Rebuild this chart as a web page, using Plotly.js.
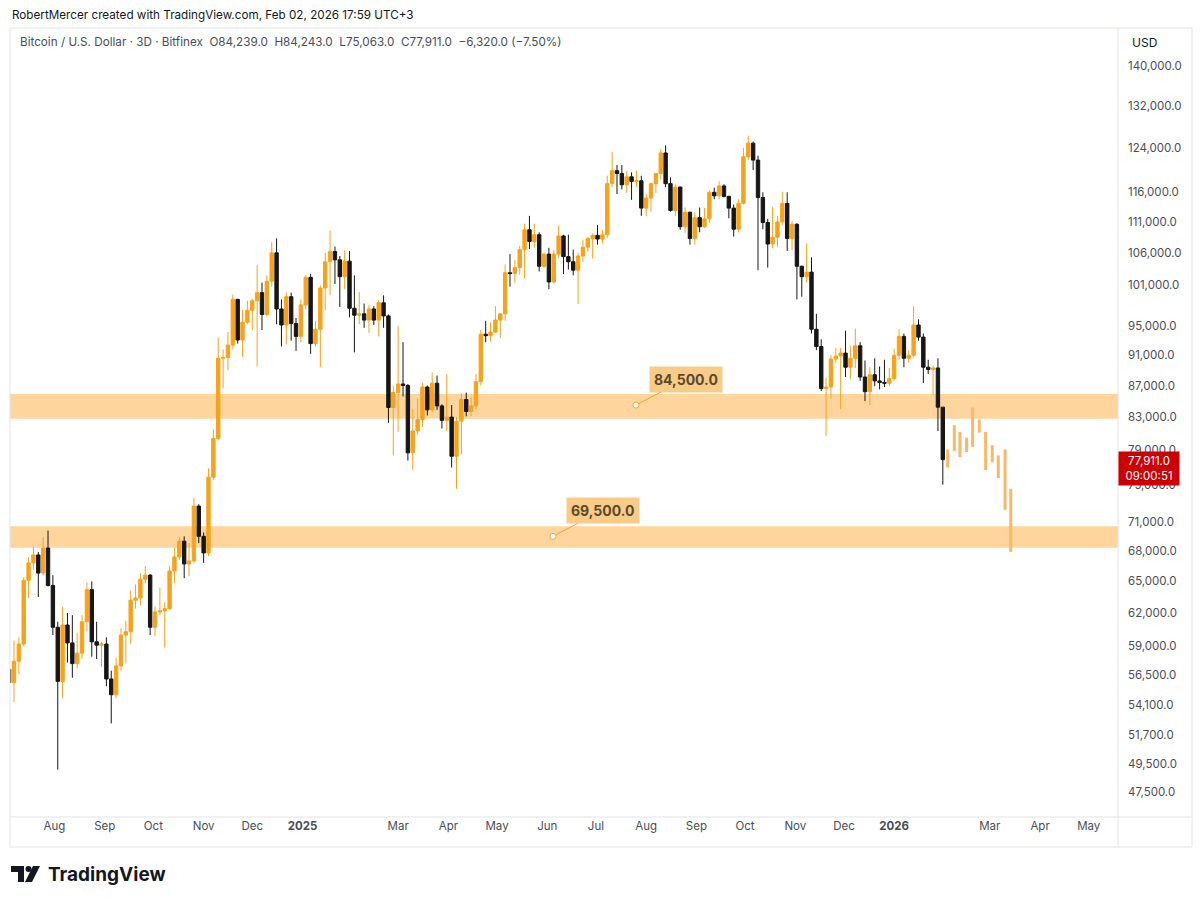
<!DOCTYPE html>
<html><head><meta charset="utf-8">
<script src="https://cdn.plot.ly/plotly-3.0.1.min.js"></script>
<style>html,body{margin:0;padding:0;background:#fff;}#chart{width:1200px;height:903px;}</style>
</head><body><div id="chart"></div>
<script>
// ---- DATA (3D candles, prices in thousands of USD) ----
const dates = [
'2024-07-04','2024-07-07','2024-07-10','2024-07-13','2024-07-16','2024-07-19','2024-07-22','2024-07-25','2024-07-28','2024-07-31',
'2024-08-03','2024-08-06','2024-08-09','2024-08-12','2024-08-15','2024-08-18','2024-08-21','2024-08-24','2024-08-27','2024-08-30',
'2024-09-02','2024-09-05','2024-09-08','2024-09-11','2024-09-14','2024-09-17','2024-09-20','2024-09-23','2024-09-26','2024-09-29',
'2024-10-02','2024-10-05','2024-10-08','2024-10-11','2024-10-14','2024-10-17','2024-10-20','2024-10-23','2024-10-26','2024-10-29',
'2024-11-01','2024-11-04','2024-11-07','2024-11-10','2024-11-13','2024-11-16','2024-11-19','2024-11-22','2024-11-25','2024-11-28',
'2024-12-01','2024-12-04','2024-12-07','2024-12-10','2024-12-13','2024-12-16','2024-12-19','2024-12-22','2024-12-25','2024-12-28',
'2024-12-31','2025-01-03','2025-01-06','2025-01-09','2025-01-12','2025-01-15','2025-01-18','2025-01-21','2025-01-24','2025-01-27',
'2025-01-30','2025-02-02','2025-02-05','2025-02-08','2025-02-11','2025-02-14','2025-02-17','2025-02-20','2025-02-23','2025-02-26',
'2025-03-01','2025-03-04','2025-03-07','2025-03-10','2025-03-13','2025-03-16','2025-03-19','2025-03-22','2025-03-25','2025-03-28',
'2025-03-31','2025-04-03','2025-04-06','2025-04-09','2025-04-12','2025-04-15','2025-04-18','2025-04-21','2025-04-24','2025-04-27',
'2025-04-30','2025-05-03','2025-05-06','2025-05-09','2025-05-12','2025-05-15','2025-05-18','2025-05-21','2025-05-24','2025-05-27',
'2025-05-30','2025-06-02','2025-06-05','2025-06-08','2025-06-11','2025-06-14','2025-06-17','2025-06-20','2025-06-23','2025-06-26',
'2025-06-29','2025-07-02','2025-07-05','2025-07-08','2025-07-11','2025-07-14','2025-07-17','2025-07-20','2025-07-23','2025-07-26',
'2025-07-29','2025-08-01','2025-08-04','2025-08-07','2025-08-10','2025-08-13','2025-08-16','2025-08-19','2025-08-22','2025-08-25',
'2025-08-28','2025-08-31','2025-09-03','2025-09-06','2025-09-09','2025-09-12','2025-09-15','2025-09-18','2025-09-21','2025-09-24',
'2025-09-27','2025-09-30','2025-10-03','2025-10-06','2025-10-09','2025-10-12','2025-10-15','2025-10-18','2025-10-21','2025-10-24',
'2025-10-27','2025-10-30','2025-11-02','2025-11-05','2025-11-08','2025-11-11','2025-11-14','2025-11-17','2025-11-20','2025-11-23',
'2025-11-26','2025-11-29','2025-12-02','2025-12-05','2025-12-08','2025-12-11','2025-12-14','2025-12-17','2025-12-20','2025-12-23',
'2025-12-26','2025-12-29','2026-01-01','2026-01-04','2026-01-07','2026-01-10','2026-01-13','2026-01-16','2026-01-19','2026-01-22',
'2026-01-25','2026-01-28','2026-01-31'];

const openK = [
57.0,55.9,57.7,59.2,65.1,66.8,67.6,65.8,68.3,64.6,
60.7,56.0,60.9,59.3,57.5,58.4,61.2,64.2,59.4,59.1,
59.2,56.2,54.9,57.3,60.0,60.3,63.2,63.4,65.2,65.6,
60.7,62.1,62.2,62.4,66.0,67.4,69.0,66.7,67.0,72.7,
69.5,67.8,75.9,80.4,90.6,90.7,92.4,98.9,93.1,95.6,
97.3,98.7,99.9,96.7,101.6,106.0,97.5,95.2,99.3,95.4,
93.6,98.1,102.2,92.6,94.6,100.6,104.6,106.2,104.9,102.3,
104.7,97.6,96.6,96.8,95.9,97.5,95.9,98.4,96.5,84.2,
86.1,87.2,87.0,78.7,81.3,82.7,86.8,83.9,87.3,84.4,
82.6,83.0,78.3,82.5,85.2,83.7,84.4,87.5,93.9,93.7,
94.2,95.9,96.8,102.9,102.8,103.7,106.5,109.7,107.8,108.9,
103.9,105.8,101.5,105.8,108.7,105.4,104.6,103.3,105.5,106.9,
108.3,108.8,108.2,108.9,117.5,119.8,119.3,117.3,118.7,117.9,
118.0,113.3,115.0,117.5,119.3,123.0,117.5,112.9,116.9,110.2,
112.6,108.3,111.7,110.2,111.5,116.0,115.4,117.1,115.3,113.3,
109.8,114.1,122.3,124.8,121.7,115.1,110.9,107.4,108.5,111.0,
114.1,108.3,110.6,103.9,102.3,103.0,94.6,92.2,86.6,86.8,
90.5,90.9,91.3,89.4,90.6,92.3,88.1,86.2,88.4,87.6,
87.4,87.3,87.9,91.0,93.6,90.6,91.0,95.2,93.5,89.4,
89.1,89.3,84.239];

const highK = [
58.4,59.5,59.8,65.4,67.4,68.4,67.9,69.4,70.1,65.6,
61.2,62.6,62.0,61.8,60.2,61.8,64.9,65.0,61.2,59.4,
59.8,56.9,58.0,60.6,61.3,64.1,64.7,65.8,66.5,65.7,
62.6,64.4,63.0,66.5,68.3,69.4,69.5,68.8,73.6,72.9,
69.9,76.9,81.5,93.4,91.8,94.2,99.6,99.0,97.4,98.7,
99.0,104.1,101.4,102.5,107.7,108.3,98.9,99.9,99.9,96.2,
98.9,102.5,102.7,95.8,101.0,106.0,109.6,107.0,105.5,106.4,
106.3,102.5,100.0,98.3,98.1,97.9,98.8,99.5,96.7,87.0,
95.1,92.8,87.2,84.0,85.3,87.4,87.0,88.7,88.3,84.6,
88.5,84.5,83.0,86.0,86.1,85.5,88.5,94.5,95.8,95.6,
97.9,96.9,104.2,105.8,104.9,107.1,110.7,112.0,110.7,109.3,
106.0,106.8,106.5,110.4,108.9,108.9,106.5,106.0,108.1,108.5,
109.1,110.5,109.7,118.9,123.2,120.8,120.8,119.7,119.5,119.8,
118.9,115.7,117.7,119.3,123.7,124.4,118.6,117.4,117.0,113.4,
112.7,112.6,113.4,113.3,116.3,116.8,117.9,117.4,115.4,113.9,
114.8,123.9,126.2,125.1,122.5,116.0,111.5,113.5,112.0,116.1,
116.0,111.1,110.8,104.0,107.5,105.3,96.8,93.2,88.0,91.0,
92.0,92.0,94.4,92.3,94.7,92.8,90.3,89.4,90.6,89.5,
90.4,89.3,91.9,94.6,94.0,91.7,97.9,96.0,94.0,90.4,
89.6,90.6,84.243];

const lowK = [
53.5,54.3,56.6,59.0,63.4,66.1,63.5,65.6,64.5,60.0,
49.1,54.6,57.6,56.3,57.1,57.9,60.3,58.1,57.9,57.2,
55.6,52.6,54.6,56.9,57.5,59.2,62.4,62.7,64.8,60.0,
59.9,61.8,58.9,62.3,64.8,67.1,65.3,65.5,66.8,68.8,
66.8,67.5,75.6,80.2,86.6,89.0,91.8,92.6,90.8,95.3,
94.5,89.5,94.5,96.4,100.8,95.3,92.2,92.5,93.0,91.6,
92.8,97.4,91.2,92.2,89.4,97.3,99.5,101.2,97.8,100.4,
96.3,91.4,95.3,94.8,94.1,95.2,93.6,94.8,82.3,78.4,
81.2,85.6,77.8,76.7,80.8,81.8,83.2,83.6,83.9,81.6,
81.3,77.0,74.6,78.5,83.1,83.1,84.0,87.0,92.8,92.9,
94.1,93.4,95.8,100.8,101.4,102.6,102.0,106.6,106.8,103.1,
103.7,100.4,101.3,105.2,102.7,103.4,102.5,98.2,104.6,106.2,
105.1,107.3,107.5,108.4,116.9,115.7,116.5,115.9,114.7,116.9,
112.0,112.0,112.7,115.9,118.2,116.9,112.7,112.0,109.7,109.2,
107.3,107.3,109.3,110.0,110.8,114.8,114.8,115.1,111.6,108.6,
109.3,113.9,121.7,119.9,103.3,109.8,103.7,106.7,106.9,110.5,
106.3,106.4,98.9,99.3,101.4,94.0,91.7,86.3,80.7,85.3,
89.9,84.0,88.1,87.8,89.3,87.6,85.0,84.5,86.9,86.5,
86.8,86.9,87.6,90.4,89.4,90.0,90.7,93.0,87.3,88.5,
85.8,81.3,75.063];

const closeK = [
55.9,57.7,59.2,65.1,66.8,67.6,65.8,68.3,64.6,60.7,
56.0,60.9,59.3,57.5,58.4,61.2,64.2,59.4,59.1,59.2,
56.2,54.9,57.3,60.0,60.3,63.2,63.4,65.2,65.6,60.7,
62.1,62.2,62.4,66.0,67.4,69.0,66.7,67.0,72.7,69.5,
67.8,75.9,80.4,90.6,90.7,92.4,98.9,93.1,95.6,97.3,
98.7,99.9,96.7,101.6,106.0,97.5,95.2,99.3,95.4,93.6,
98.1,102.2,92.6,94.6,100.6,104.6,106.2,104.9,102.3,104.7,
97.6,96.6,96.8,95.9,97.5,95.9,98.4,96.5,84.2,86.1,
87.2,87.0,78.7,81.3,82.7,86.8,83.9,87.3,84.4,82.6,
83.0,78.3,82.5,85.2,83.7,84.4,87.5,93.9,93.7,94.2,
95.9,96.8,102.9,102.8,103.7,106.5,109.7,107.8,108.9,103.9,
105.8,101.5,105.8,108.7,105.4,104.6,103.3,105.5,106.9,108.3,
108.8,108.2,108.9,117.5,119.8,119.3,117.3,118.7,117.9,118.0,
113.3,115.0,117.5,119.3,123.0,117.5,112.9,116.9,110.2,112.6,
108.3,111.7,110.2,111.5,116.0,115.4,117.1,115.3,113.3,109.8,
114.1,122.3,124.8,121.7,115.1,110.9,107.4,108.5,111.0,114.1,
108.3,110.6,103.9,102.3,103.0,94.6,92.2,86.6,86.8,90.5,
90.9,91.3,89.4,90.6,92.3,88.1,86.2,88.4,87.6,87.4,
87.3,87.9,91.0,93.6,90.6,91.0,95.2,93.5,89.4,89.1,
89.3,84.239,77.911];

// projected (bars-pattern) high/low ranges
const projDates = ['2026-02-03 00:00','2026-02-07 02:00','2026-02-10 14:00','2026-02-14 17:00','2026-02-18 10:00','2026-02-22 12:00','2026-02-26 10:00','2026-03-02 12:00','2026-03-06 05:00','2026-03-10 10:00','2026-03-13 22:00'];
const projHighK = [79.1,82.0,81.2,80.5,84.2,82.7,81.2,79.6,78.4,79.1,74.6];
const projLowK  = [77.0,78.9,78.2,78.8,79.4,81.1,76.7,77.6,75.8,72.3,67.9];

// horizontal zones
const zoneLowK  = [82.8, 68.33];
const zoneHighK = [85.9, 70.55];
const zoneLabelValues = [84500, 69500];
const zoneAnchorDates = ['2025-07-25 17:00','2025-06-04 12:00'];

// axis ticks
const yTickValues = [47500,49500,51700,54100,56500,59000,62000,65000,68000,71000,75000,79000,83000,87000,91000,95000,101000,106000,111000,116000,124000,132000,140000];
const xTickDates = ['2024-08-01','2024-09-01','2024-10-01','2024-11-01','2024-12-01','2025-01-01','2025-03-01','2025-04-01','2025-05-01','2025-06-01','2025-07-01','2025-08-01','2025-09-01','2025-10-01','2025-11-01','2025-12-01','2026-01-01','2026-03-01','2026-04-01','2026-05-01'];
const xTickLabels = ['Aug','Sep','Oct','Nov','Dec','<b>2025</b>','Mar','Apr','May','Jun','Jul','Aug','Sep','Oct','Nov','Dec','<b>2026</b>','Mar','Apr','May'];

const lastPrice = 77911;
const lastPriceText = '77,911.0';
const countdownText = '09:00:51';

// ---- BUILD ----
const K = v => v * 1000;
const open = openK.map(K), high = highK.map(K), low = lowK.map(K), close = closeK.map(K);
const fmt = v => v.toLocaleString('en-US', {minimumFractionDigits:1, maximumFractionDigits:1});

const FONT = 'Inter, Roboto, "Noto Sans", sans-serif';
const P = {l:10, r:1118, t:28, b:817};
const px = x => (x - P.l) / (P.r - P.l);
const py = y => (P.b - y) / (P.b - P.t);

const projX = [], projY = [];
projDates.forEach((d, i) => { projX.push(d, d, null); projY.push(K(projLowK[i]), K(projHighK[i]), null); });

const traces = [
  {type:'candlestick', x:dates, open, high, low, close,
   increasing:{line:{color:'#f7a21b', width:1}, fillcolor:'#f7a21b'},
   decreasing:{line:{color:'#161616', width:1}, fillcolor:'#161616'},
   whiskerwidth:0, hoverinfo:'skip', showlegend:false},
  {type:'scatter', mode:'lines', x:projX, y:projY, connectgaps:false,
   line:{color:'#f6b869', width:3}, hoverinfo:'skip', showlegend:false},
  {type:'scatter', mode:'markers', x:zoneAnchorDates, y:zoneLabelValues,
   marker:{symbol:'circle', size:6, color:'#ffffff', line:{color:'#f2a640', width:1}},
   hoverinfo:'skip', showlegend:false}
];

const shapes = [];
zoneLowK.forEach((lo, i) => {
  shapes.push({type:'rect', xref:'paper', yref:'y', x0:0, x1:1, y0:K(lo), y1:K(zoneHighK[i]),
    fillcolor:'#fdd59d', line:{width:0}, layer:'below'});
});
const border = '#e0e3eb';
const line = (x0,y0,x1,y1) => ({type:'line', xref:'paper', yref:'paper', x0:px(x0), y0:py(y0), x1:px(x1), y1:py(y1), line:{color:border, width:1}});
shapes.push(line(10,28,1192,28), line(10,847,1192,847), line(10,28,10,847), line(1192,28,1192,847), line(1118,28,1118,847), line(10,817,1192,817));
// TradingView logo glyph
const path = pts => 'M' + pts.map(p => px(p[0]) + ',' + py(p[1])).join(' L') + ' Z';
shapes.push({type:'path', xref:'paper', yref:'paper', path:path([[11,866],[24,866],[24,882],[18,882],[18,872],[11,872]]), fillcolor:'#131722', line:{width:0}});
shapes.push({type:'circle', xref:'paper', yref:'paper', x0:px(25.5), x1:px(31.5), y0:py(866), y1:py(872), fillcolor:'#131722', line:{width:0}});
shapes.push({type:'path', xref:'paper', yref:'paper', path:path([[33,866],[40,866],[32,882],[25,882]]), fillcolor:'#131722', line:{width:0}});

const ann = [];
ann.push({xref:'paper', yref:'paper', x:px(10), y:py(15), xanchor:'left', yanchor:'middle', showarrow:false,
  text:'RobertMercer created with TradingView.com, Feb 02, 2026 17:59 UTC+3', font:{family:FONT, size:11.7, color:'#131722'}});
ann.push({xref:'paper', yref:'paper', x:px(18), y:py(42), xanchor:'left', yanchor:'middle', showarrow:false,
  text:'Bitcoin / U.S. Dollar · 3D · Bitfinex  O' + fmt(open[open.length-1]) + '  H' + fmt(high[high.length-1]) + '  L' + fmt(low[low.length-1]) + '  C' + fmt(close[close.length-1]) + '  −6,320.0 (−7.50%)',
  font:{family:FONT, size:11.7, color:'#4a4d57'}});
ann.push({xref:'paper', yref:'paper', x:px(1130), y:py(42), xanchor:'left', yanchor:'middle', showarrow:false,
  text:'USD', font:{family:FONT, size:12, color:'#131722'}});
ann.push({xref:'paper', yref:'paper', x:px(46), y:py(874), xanchor:'left', yanchor:'middle', showarrow:false,
  text:'<b>TradingView</b>', font:{family:FONT, size:19, color:'#131722'}});
zoneLabelValues.forEach((v, i) => {
  ann.push({x:zoneAnchorDates[i], y:Math.log10(v), xref:'x', yref:'y', text:'<b>' + fmt(v) + '</b>',
    showarrow:true, arrowhead:0, arrowwidth:1, arrowcolor:'#f0a43a', ax:50, ay:-26, standoff:3,
    bgcolor:'#f9cb88', borderpad:4, font:{family:FONT, size:14, color:'#5a4a2d'}});
});
ann.push({xref:'paper', yref:'y', x:1, y:Math.log10(lastPrice), xanchor:'left', yanchor:'top', yshift:9, showarrow:false,
  text:lastPriceText + '<br>' + countdownText, bgcolor:'#cc0000', borderpad:2, width:56, align:'center',
  font:{family:FONT, size:11.5, color:'#ffffff'}});

const layout = {
  width:1200, height:903, margin:{l:P.l, r:1200-P.r, t:P.t, b:903-P.b},
  paper_bgcolor:'#ffffff', plot_bgcolor:'#ffffff', showlegend:false,
  boxgap:0.3, boxgroupgap:0,
  xaxis:{type:'date', range:['2024-07-04 13:00','2026-05-19 02:00'], rangeslider:{visible:false},
    showgrid:false, zeroline:false, showline:false, ticks:'', tickvals:xTickDates, ticktext:xTickLabels,
    tickfont:{family:FONT, size:11.5, color:'#4a4d57'}, fixedrange:true},
  yaxis:{type:'log', side:'right', range:[Math.log10(45760), Math.log10(148150)],
    showgrid:false, zeroline:false, showline:false, ticks:'', tickvals:yTickValues, ticktext:yTickValues.map(fmt),
    tickfont:{family:FONT, size:11.5, color:'#4a4d57'}, ticklabelstandoff:9, fixedrange:true},
  shapes, annotations:ann
};
Plotly.newPlot('chart', traces, layout, {staticPlot:true, displayModeBar:false});
</script>
</body></html>
